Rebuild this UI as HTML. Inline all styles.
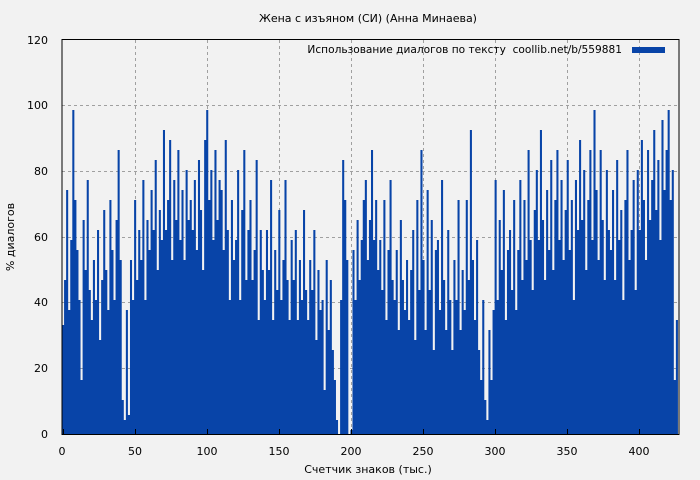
<!DOCTYPE html>
<html><head><meta charset="utf-8"><style>
html,body{margin:0;padding:0;background:#f2f2f2;}
svg{display:block;font-family:"DejaVu Sans","Liberation Sans",sans-serif;}
</style></head><body>
<svg width="700" height="480" viewBox="0 0 700 480" xmlns="http://www.w3.org/2000/svg">
<rect width="700" height="480" fill="#f2f2f2"/>
<g stroke="#a0a0a0" stroke-width="1" stroke-dasharray="3,3" fill="none">
<line x1="62" x2="679" y1="368.5" y2="368.5"/>
<line x1="62" x2="679" y1="302.5" y2="302.5"/>
<line x1="62" x2="679" y1="237.5" y2="237.5"/>
<line x1="62" x2="679" y1="171.5" y2="171.5"/>
<line x1="62" x2="679" y1="105.5" y2="105.5"/>
<line x1="135.5" x2="135.5" y1="40" y2="434"/>
<line x1="207.5" x2="207.5" y1="40" y2="434"/>
<line x1="279.5" x2="279.5" y1="40" y2="434"/>
<line x1="351.5" x2="351.5" y1="40" y2="434"/>
<line x1="423.5" x2="423.5" y1="40" y2="434"/>
<line x1="495.5" x2="495.5" y1="40" y2="434"/>
<line x1="567.5" x2="567.5" y1="40" y2="434"/>
<line x1="639.5" x2="639.5" y1="40" y2="434"/>
</g>
<path fill="#0844a8" d="M62 434
V325h2.06V280h2.06V190h2.06V310h2.06V240h2.06V110h2.06V200h2.06
V250h2.06V300h2.06V380h2.06V220h2.06V270h2.06V180h2.06V290h2.06
V320h2.06V260h2.06V300h2.06V230h2.06V340h2.06V280h2.06V210h2.06
V270h2.06V310h2.06V200h2.06V250h2.06V300h2.06V220h2.06V150h2.06
V260h2.06V400h2.06V420h2.06V310h2.06V415h2.06V260h2.06V300h2.06
V200h2.06V280h2.06V230h2.06V260h2.06V180h2.06V300h2.06V220h2.06
V250h2.06V190h2.06V230h2.06V160h2.06V270h2.06V210h2.06V240h2.06
V130h2.06V230h2.06V200h2.06V140h2.06V260h2.06V180h2.06V220h2.06
V150h2.06V240h2.06V190h2.06V260h2.06V170h2.06V220h2.06V200h2.06
V230h2.06V180h2.06V250h2.06V160h2.06V210h2.06V270h2.06V140h2.06
V110h2.06V200h2.06V170h2.06V240h2.06V150h2.06V220h2.06V180h2.06
V190h2.06V250h2.06V140h2.06V230h2.06V300h2.06V200h2.06V260h2.06
V240h2.06V170h2.06V300h2.06V210h2.06V150h2.06V280h2.06V230h2.06
V200h2.06V280h2.06V250h2.06V160h2.06V320h2.06V230h2.06V270h2.06
V300h2.06V230h2.06V270h2.06V180h2.06V320h2.06V250h2.06V290h2.06
V210h2.06V300h2.06V260h2.06V180h2.06V280h2.06V320h2.06V240h2.06
V280h2.06V230h2.06V320h2.06V260h2.06V300h2.06V210h2.06V290h2.06
V320h2.06V260h2.06V290h2.06V230h2.06V340h2.06V270h2.06V310h2.06
V300h2.06V390h2.06V260h2.06V330h2.06V280h2.06V350h2.06V380h2.06
V420h2.06V434h2.06V300h2.06V160h2.06V200h2.06V260h2.06V434h2.06
V430h2.06V250h2.06V300h2.06V220h2.06V280h2.06V240h2.06V200h2.06
V180h2.06V260h2.06V220h2.06V150h2.06V240h2.06V200h2.06V270h2.06
V240h2.06V290h2.06V200h2.06V320h2.06V250h2.06V180h2.06V280h2.06
V300h2.06V250h2.06V330h2.06V220h2.06V280h2.06V310h2.06V260h2.06
V320h2.06V270h2.06V230h2.06V340h2.06V200h2.06V290h2.06V150h2.06
V260h2.06V330h2.06V190h2.06V290h2.06V220h2.06V350h2.06V250h2.06
V240h2.06V310h2.06V180h2.06V280h2.06V330h2.06V230h2.06V300h2.06
V350h2.06V260h2.06V300h2.06V200h2.06V330h2.06V270h2.06V310h2.06
V200h2.06V280h2.06V130h2.06V260h2.06V320h2.06V240h2.06V350h2.06
V380h2.06V300h2.06V400h2.06V420h2.06V330h2.06V380h2.06V310h2.06
V180h2.06V300h2.06V220h2.06V270h2.06V190h2.06V320h2.06V250h2.06
V230h2.06V290h2.06V200h2.06V310h2.06V250h2.06V180h2.06V280h2.06
V200h2.06V260h2.06V150h2.06V240h2.06V290h2.06V210h2.06V170h2.06
V240h2.06V130h2.06V220h2.06V280h2.06V190h2.06V250h2.06V160h2.06
V270h2.06V200h2.06V150h2.06V240h2.06V180h2.06V260h2.06V210h2.06
V160h2.06V250h2.06V200h2.06V300h2.06V180h2.06V230h2.06V140h2.06
V220h2.06V170h2.06V270h2.06V200h2.06V150h2.06V240h2.06V110h2.06
V190h2.06V260h2.06V150h2.06V220h2.06V280h2.06V170h2.06V230h2.06
V250h2.06V190h2.06V280h2.06V160h2.06V240h2.06V210h2.06V300h2.06
V200h2.06V150h2.06V260h2.06V230h2.06V180h2.06V290h2.06V170h2.06
V230h2.06V140h2.06V200h2.06V260h2.06V150h2.06V220h2.06V180h2.06
V130h2.06V210h2.06V160h2.06V240h2.06V120h2.06V190h2.06V150h2.06
V110h2.06V200h2.06V170h2.06V380h2.06V320h2.06V434z"/>
<rect x="62" y="39.5" width="617" height="395" fill="none" stroke="#000" stroke-width="1"/>
<g stroke="#000">
<line x1="63.5" x2="63.5" y1="434" y2="429"/><line x1="135.5" x2="135.5" y1="434" y2="429"/><line x1="207.5" x2="207.5" y1="434" y2="429"/><line x1="279.5" x2="279.5" y1="434" y2="429"/><line x1="351.5" x2="351.5" y1="434" y2="429"/><line x1="423.5" x2="423.5" y1="434" y2="429"/><line x1="495.5" x2="495.5" y1="434" y2="429"/><line x1="567.5" x2="567.5" y1="434" y2="429"/><line x1="639.5" x2="639.5" y1="434" y2="429"/>
</g>
<g font-size="11" fill="#000" text-anchor="end">
<text x="48" y="438">0</text><text x="48" y="372">20</text><text x="48" y="306">40</text><text x="48" y="241">60</text><text x="48" y="175">80</text><text x="48" y="109">100</text><text x="48" y="44">120</text>
</g>
<g font-size="11" fill="#000" text-anchor="middle">
<text x="62" y="455">0</text><text x="135" y="455">50</text><text x="207" y="455">100</text><text x="279" y="455">150</text><text x="351" y="455">200</text><text x="423" y="455">250</text><text x="495" y="455">300</text><text x="567" y="455">350</text><text x="639" y="455">400</text>
<text x="368" y="473">Счетчик знаков (тыс.)</text>
<text x="368" y="22">Жена с изъяном (СИ) (Анна Минаева)</text>
<text transform="translate(14,237) rotate(-90)">% диалогов</text>
</g>
<text x="622" y="53" font-size="10.6" text-anchor="end" xml:space="preserve">Использование диалогов по тексту  coollib.net/b/559881</text>
<rect x="632" y="47" width="33" height="6" fill="#0844a8"/>
</svg>
</body></html>
